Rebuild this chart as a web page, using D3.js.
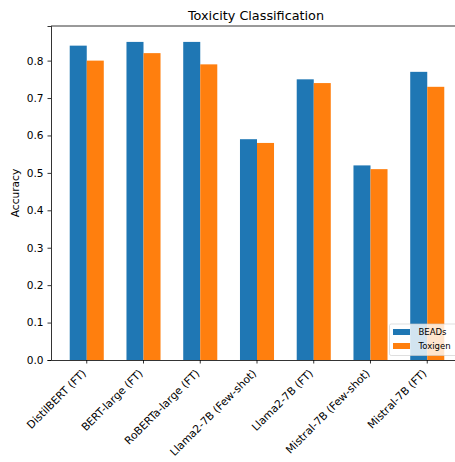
<!DOCTYPE html>
<html>
<head>
<meta charset="utf-8">
<script src="https://cdn.jsdelivr.net/npm/d3@7"></script>
<style>
  html, body { margin: 0; padding: 0; background: #fff; }
  svg { display: block; font-family: "DejaVu Sans", sans-serif; }
</style>
</head>
<body>
<svg id="chart" width="455" height="462"></svg>
<script>
const categories = ["DistilBERT (FT)", "BERT-large (FT)", "RoBERTa-large (FT)", "Llama2-7B (Few-shot)", "Llama2-7B (FT)", "Mistral-7B (Few-shot)", "Mistral-7B (FT)"];
const beads = [0.84, 0.85, 0.85, 0.59, 0.75, 0.52, 0.77];
const toxigen = [0.80, 0.82, 0.79, 0.58, 0.74, 0.51, 0.73];
const seriesNames = ["BEADs", "Toxigen"];
const seriesColors = ["#1f77b4", "#ff7f0e"];
const yTicks = [0.0, 0.1, 0.2, 0.3, 0.4, 0.5, 0.6, 0.7, 0.8];

const svg = d3.select("#chart");
const L = 51, T = 26, R = 463, B = 360;

const x = d3.scaleBand().domain(categories).range([L, R]).paddingInner(0).paddingOuter(0.13);
const y = d3.scaleLinear().domain([0, 0.8925]).range([B, T]);
const bw = x.bandwidth() * 0.3;
const center = c => x(c) + x.bandwidth() / 2;

const series = [beads, toxigen];
series.forEach((vals, s) => {
  svg.append("g").selectAll("rect").data(categories).join("rect")
    .attr("x", (c) => s === 0 ? center(c) - bw : center(c))
    .attr("width", bw)
    .attr("y", (c, i) => y(vals[i]))
    .attr("height", (c, i) => B - y(vals[i]))
    .attr("fill", seriesColors[s]);
});

// Axes frame
svg.append("line").attr("x1", L).attr("x2", R).attr("y1", T).attr("y2", T).attr("stroke", "#000").attr("stroke-width", 0.8);
svg.append("line").attr("x1", R).attr("x2", R).attr("y1", T).attr("y2", B).attr("stroke", "#000").attr("stroke-width", 0.8);

// Y axis
const yAxis = svg.append("g").attr("transform", `translate(${L},0)`)
  .call(d3.axisLeft(y).tickValues(yTicks).tickFormat(d3.format(".1f")).tickSize(3.5).tickPadding(4));
yAxis.select(".domain").attr("stroke", "#000").attr("stroke-width", 0.8);
yAxis.selectAll(".tick line").attr("stroke", "#000").attr("stroke-width", 0.8);
yAxis.selectAll("text").attr("font-size", 10.6).attr("fill", "#000").attr("font-family", "DejaVu Sans");

// X axis
const xAxis = svg.append("g").attr("transform", `translate(0,${B})`)
  .call(d3.axisBottom(x).tickSize(3.5).tickSizeOuter(0).tickPadding(3.5));
xAxis.select(".domain").attr("stroke", "#000").attr("stroke-width", 0.8);
xAxis.selectAll(".tick line").attr("stroke", "#000").attr("stroke-width", 0.8);
xAxis.selectAll("text")
  .attr("font-size", 10.7).attr("fill", "#000").attr("font-family", "DejaVu Sans")
  .attr("text-anchor", "end")
  .attr("dy", null)
  .attr("x", 0).attr("y", 0)
  .attr("transform", "translate(0,14) rotate(-45)");

// Title
svg.append("text").attr("x", (L + R) / 2 - 1).attr("y", 20)
  .attr("text-anchor", "middle").attr("font-size", 12.8).attr("fill", "#000")
  .text("Toxicity Classification");

// Y label
svg.append("text").attr("transform", `translate(19,${(T + B) / 2}) rotate(-90)`)
  .attr("text-anchor", "middle").attr("font-size", 10.6).attr("fill", "#000")
  .text("Accuracy");

// Legend
const lg = svg.append("g").attr("transform", "translate(389.5,324)");
lg.append("rect").attr("width", 70).attr("height", 31.5).attr("rx", 1.7)
  .attr("fill", "#fff").attr("fill-opacity", 0.8)
  .attr("stroke", "#cccccc").attr("stroke-opacity", 0.8).attr("stroke-width", 0.8);
seriesNames.forEach((n, i) => {
  const cy = 8 + i * 14;
  lg.append("rect").attr("x", 3.5).attr("y", cy - 3).attr("width", 17).attr("height", 6).attr("fill", seriesColors[i]);
  lg.append("text").attr("x", 29).attr("y", cy + 3).attr("font-size", 8.5).attr("fill", "#000").text(n);
});
</script>
</body>
</html>
